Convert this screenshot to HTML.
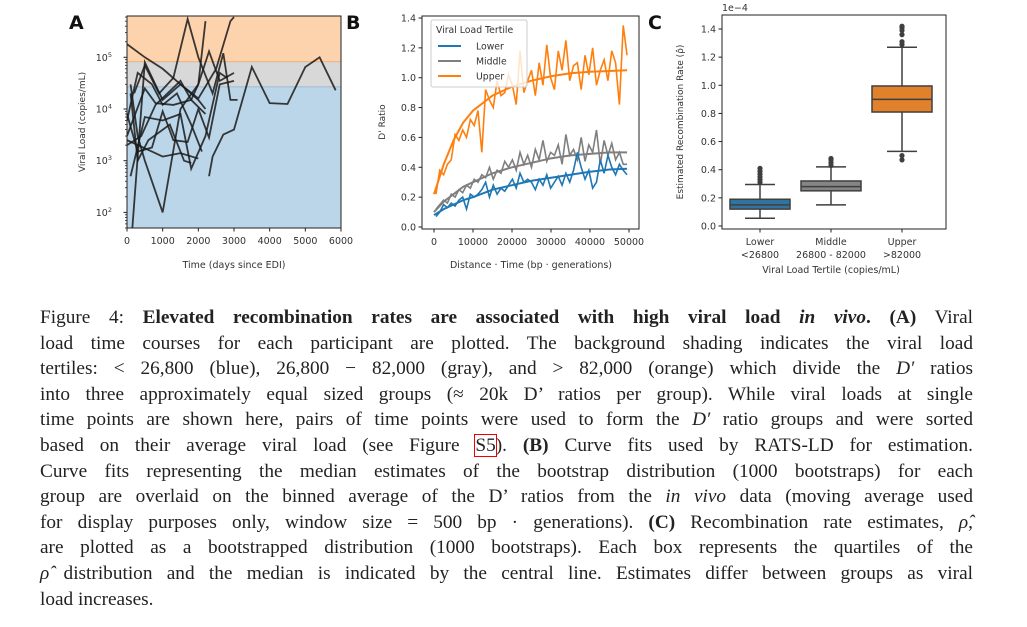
<!DOCTYPE html>
<html><head><meta charset="utf-8">
<style>
body{margin:0;background:#fff;width:1027px;height:627px;overflow:hidden;position:relative}
svg{position:absolute;left:0;top:0}
.cap{position:absolute;left:40px;width:933px;font-family:"Liberation Serif",serif;font-size:19.3px;color:#222;line-height:25.6px;top:305px}
.cap div{text-align:justify;text-align-last:justify;white-space:nowrap}
.cap div.last{text-align-last:left}
.ref{outline:1.5px solid #e00;outline-offset:0}
</style></head><body>
<svg id="fig" width="1027" height="290" font-family="DejaVu Sans, Liberation Sans, sans-serif"></svg>
<div class="cap">
<div>Figure 4: <b>Elevated recombination rates are associated with high viral load <i>in vivo</i>.</b> <b>(A)</b> Viral</div>
<div>load time courses for each participant are plotted. The background shading indicates the viral load</div>
<div>tertiles: &lt; 26,800 (blue), 26,800 − 82,000 (gray), and &gt; 82,000 (orange) which divide the <i>D′</i> ratios</div>
<div>into three approximately equal sized groups (≈ 20k D’ ratios per group). While viral loads at single</div>
<div>time points are shown here, pairs of time points were used to form the <i>D′</i> ratio groups and were sorted</div>
<div>based on their average viral load (see Figure <span class="ref">S5</span>). <b>(B)</b> Curve fits used by RATS-LD for estimation.</div>
<div>Curve fits representing the median estimates of the bootstrap distribution (1000 bootstraps) for each</div>
<div>group are overlaid on the binned average of the D’ ratios from the <i>in vivo</i> data (moving average used</div>
<div>for display purposes only, window size = 500 bp · generations). <b>(C)</b> Recombination rate estimates, <i>ρ̂</i>,</div>
<div>are plotted as a bootstrapped distribution (1000 bootstraps). Each box represents the quartiles of the</div>
<div><i>ρ̂</i> distribution and the median is indicated by the central line. Estimates differ between groups as viral</div>
<div class="last">load increases.</div>
</div>
<script>
// ---- Panel A data ----
const aXTicks=[0,1000,2000,3000,4000,5000,6000];
const aYTicks=[2,3,4,5];
const aThresholds=[26800,82000];
const aSeries=[
[[0,180000],[500,100000],[1000,60000],[1500,30000],[2000,15000],[2200,10000]],
[[2300,500],[2400,1200],[2700,3200],[3000,4000],[3500,65000],[4000,13000],[4500,12500],[5000,65000],[5400,100000],[5850,23000]],
[[100,30000],[300,3000],[500,1000],[1000,100],[1500,10000],[2000,30000],[2200,500000]],
[[150,50],[400,10000],[500,80000],[1000,15000],[1500,30000],[2000,16000],[2500,60000],[2900,500000],[3000,600000]],
[[0,3000],[500,25000],[800,13000],[1300,12000],[1800,15000],[2000,30000],[2300,130000],[2600,35000],[3000,50000]],
[[0,2500],[700,1500],[1000,1200],[1500,1400],[2000,1100]],
[[100,500],[500,7000],[1000,6000],[1500,8000],[1800,700],[2200,3000],[2600,50000],[2800,40000]],
[[0,8000],[300,1500],[700,1800],[1000,9000],[1300,2500],[1700,2300],[2000,10000],[2300,2800],[2600,30000],[3000,35000]],
[[200,20000],[500,70000],[900,20000],[1300,40000],[1700,550000],[2000,100000],[2400,20000],[2700,120000],[2900,15000],[3100,15000]],
[[0,6000],[300,50000],[700,30000],[1000,12000],[1400,20000],[1800,5000],[2100,1500]],
[[100,20000],[300,1000],[600,2500],[1200,5000],[1600,1000],[1800,900]],
[[0,2000],[400,3000],[800,12000],[1500,35000],[1800,15000],[2200,8000]]
];
// ---- Panel B data ----
const bXTicks=[0,10000,20000,30000,40000,50000];
const bYTicks=[0,0.2,0.4,0.6,0.8,1.0,1.2,1.4];
const bNames=["Lower","Middle","Upper"];
const bUpper=[0.22,0.38,0.35,0.42,0.45,0.62,0.58,0.65,0.60,0.72,0.68,0.78,0.50,0.92,0.85,0.80,0.98,0.88,0.90,1.02,0.95,0.82,1.18,0.90,0.98,1.05,0.88,1.10,0.95,1.22,1.00,0.92,1.18,1.05,1.25,0.98,1.08,1.10,0.92,1.15,1.02,1.20,0.95,1.05,1.12,0.98,1.18,1.10,0.82,1.35,1.15];
const bMiddle=[0.12,0.15,0.18,0.16,0.22,0.20,0.25,0.23,0.28,0.26,0.32,0.30,0.35,0.33,0.40,0.32,0.38,0.36,0.44,0.40,0.45,0.38,0.50,0.42,0.48,0.40,0.52,0.45,0.58,0.44,0.50,0.48,0.55,0.42,0.62,0.48,0.52,0.45,0.60,0.44,0.55,0.50,0.65,0.42,0.58,0.48,0.56,0.45,0.50,0.42,0.42];
const bLower=[0.07,0.10,0.15,0.13,0.16,0.14,0.18,0.20,0.12,0.22,0.20,0.22,0.25,0.30,0.20,0.28,0.22,0.26,0.24,0.28,0.32,0.26,0.36,0.30,0.32,0.30,0.25,0.32,0.28,0.35,0.26,0.30,0.34,0.28,0.36,0.30,0.38,0.50,0.40,0.32,0.38,0.26,0.30,0.45,0.36,0.48,0.40,0.35,0.42,0.38,0.35];
const bFitX=[0,2500,5000,7500,10000,15000,20000,25000,30000,35000,40000,45000,49500];
const bFitUpper=[0.22,0.42,0.58,0.70,0.78,0.88,0.94,0.98,1.01,1.03,1.04,1.045,1.05];
const bFitMiddle=[0.10,0.17,0.22,0.27,0.30,0.36,0.40,0.43,0.46,0.48,0.49,0.50,0.50];
const bFitLower=[0.08,0.12,0.15,0.18,0.20,0.25,0.28,0.31,0.33,0.35,0.37,0.385,0.39];
// ---- Panel C data ----
const cCats=["Lower","Middle","Upper"];
const cSub=["<26800","26800 - 82000",">82000"];
const cYTicks=[0,0.2,0.4,0.6,0.8,1.0,1.2,1.4];
const cWlo=[0.055,0.15,0.53];
const cQ1=[0.12,0.25,0.81];
const cMed=[0.15,0.28,0.90];
const cQ3=[0.19,0.32,0.995];
const cWhi=[0.295,0.42,1.27];
const cOut=[[0.31,0.33,0.35,0.37,0.39,0.41],[0.43,0.45,0.47,0.48],[0.47,0.50,1.29,1.31,1.36,1.39,1.41,1.42]];

const NS="http://www.w3.org/2000/svg";
const svg=document.getElementById('fig');
function mk(tag,attrs,parent){const e=document.createElementNS(NS,tag);for(const k in attrs)e.setAttribute(k,attrs[k]);(parent||svg).appendChild(e);return e;}
function txt(s,attrs,parent){const e=mk('text',attrs,parent);e.textContent=s;return e;}

// ===== Panel A =====
const ax=v=>127+(v/6000)*214;
const ay=v=>109-(Math.log10(v)-4)*51.7;
const gA=mk('g',{});


const aT=16,aB=228;
let r=mk('rect',{x:127,y:aT,width:214,height:ay(aThresholds[1])-aT,fill:'#fdd3ae'},gA);

r=mk('rect',{x:127,y:ay(aThresholds[1]),width:214,height:ay(aThresholds[0])-ay(aThresholds[1]),fill:'#d8d8d8'},gA);

r=mk('rect',{x:127,y:ay(aThresholds[0]),width:214,height:aB-ay(aThresholds[0]),fill:'#bcd6e9'},gA);

mk('line',{x1:127,x2:341,y1:ay(aThresholds[1]),y2:ay(aThresholds[1]),stroke:'#e8a46a','stroke-width':0.8},gA);
mk('line',{x1:127,x2:341,y1:ay(aThresholds[0]),y2:ay(aThresholds[0]),stroke:'#8fb0c8','stroke-width':0.8},gA);
const cp=mk('clipPath',{id:'clipA'},gA);mk('rect',{x:127,y:aT,width:214,height:aB-aT},cp);
aSeries.forEach((s,i)=>{
  const p=mk('polyline',{points:s.map(d=>ax(d[0])+','+ay(d[1])).join(' '),fill:'none',stroke:'#1a1a1a','stroke-width':1.8,'stroke-opacity':0.85,'clip-path':'url(#clipA)'},gA);
  
  
});
mk('rect',{x:127,y:aT,width:214,height:aB-aT,fill:'none',stroke:'#222','stroke-width':1},gA);
aXTicks.forEach(t=>{mk('line',{x1:ax(t),x2:ax(t),y1:aB,y2:aB+3.5,stroke:'#222'},gA);
  const e=txt(String(t),{x:ax(t),y:aB+16,'font-size':9.5,'text-anchor':'middle',fill:'#333'},gA);
  });
aYTicks.forEach(t=>{const y=ay(Math.pow(10,t));mk('line',{x1:127,x2:123.5,y1:y,y2:y,stroke:'#222'},gA);
  const e=txt('10',{x:112,y:y+3.5,'font-size':9.5,'text-anchor':'end',fill:'#333'},gA);
  const s=document.createElementNS(NS,'tspan');s.setAttribute('dy','-4');s.setAttribute('font-size','6.5');s.textContent=String(t);e.appendChild(s);
  });
for(let d=1;d<=5;d++)for(let m=2;m<=9;m++){const v=m*Math.pow(10,d);const y=ay(v);if(y>aT&&y<aB)mk('line',{x1:127,x2:125,y1:y,y2:y,stroke:'#222','stroke-width':0.8},gA);}
let e=txt('Time (days since EDI)',{x:234,y:268,'font-size':9.5,'text-anchor':'middle',fill:'#333'},gA);

e=txt('Viral Load (copies/mL)',{x:0,y:0,'font-size':9,'text-anchor':'middle',fill:'#333',transform:'translate(85,122) rotate(-90)'},gA);

e=txt('A',{x:69,y:29,'font-size':19,'font-weight':'bold',fill:'#111'},gA);


// ===== Panel B =====
const bx=v=>434+(v/50000)*195;
const by=v=>227-(v/1.4)*209;
const gB=mk('g',{});


const bL=422,bR=639,bT=16,bBt=229;
mk('rect',{x:bL,y:bT,width:bR-bL,height:bBt-bT,fill:'#fff',stroke:'#222','stroke-width':1},gB);
const cols={Lower:'#1f77b4',Middle:'#7f7f7f',Upper:'#ff7f0e'};
const raw={Lower:bLower,Middle:bMiddle,Upper:bUpper};
const fit={Lower:bFitLower,Middle:bFitMiddle,Upper:bFitUpper};
["Upper","Middle","Lower"].forEach(n=>{
  const arr=raw[n];
  const p=mk('polyline',{points:arr.map((v,i)=>bx(500+i*(49000/(arr.length-1)))+','+by(v)).join(' '),fill:'none',stroke:cols[n],'stroke-width':1.6},gB);
  
  
  const f=mk('polyline',{points:bFitX.map((x,i)=>bx(x)+','+by(fit[n][i])).join(' '),fill:'none',stroke:cols[n],'stroke-width':2},gB);
  
  
});
bXTicks.forEach(t=>{mk('line',{x1:bx(t),x2:bx(t),y1:bBt,y2:bBt+3.5,stroke:'#222'},gB);
  const e=txt(String(t),{x:bx(t),y:bBt+16,'font-size':9.5,'text-anchor':'middle',fill:'#333'},gB);
  });
bYTicks.forEach(t=>{mk('line',{x1:bL,x2:bL-3.5,y1:by(t),y2:by(t),stroke:'#222'},gB);
  const e=txt(t.toFixed(1),{x:bL-6,y:by(t)+3.5,'font-size':9.5,'text-anchor':'end',fill:'#333'},gB);
  });
e=txt('Distance · Time (bp · generations)',{x:531,y:268,'font-size':9.5,'text-anchor':'middle',fill:'#333'},gB);

e=txt("D' Ratio",{x:0,y:0,'font-size':9,'text-anchor':'middle',fill:'#333',transform:'translate(385,122) rotate(-90)'},gB);

const lg=mk('g',{},gB);

mk('rect',{x:431,y:20,width:96,height:67,fill:'#fff','fill-opacity':0.8,stroke:'#ccc',rx:2},lg);
txt('Viral Load Tertile',{x:436,y:33,'font-size':9.3,fill:'#333'},lg);
bNames.forEach((n,i)=>{const y=46+i*15;
  const li=mk('line',{x1:438,x2:461,y1:y,y2:y,stroke:cols[n],'stroke-width':2},lg);
  const t=txt(n,{x:476,y:y+3.5,'font-size':9.3,fill:'#333'},lg);
  });
e=txt('B',{x:346,y:29,'font-size':19,'font-weight':'bold',fill:'#111'},gB);


// ===== Panel C =====
const cx=i=>760+i*71;
const cy=v=>226-(v/1.4)*197;
const gC=mk('g',{});


const cL=722,cR=946,cT=15,cB=229;
mk('rect',{x:cL,y:cT,width:cR-cL,height:cB-cT,fill:'#fff',stroke:'#222','stroke-width':1},gC);
const fills=['#3274a1','#858585','#e1812c'];
cCats.forEach((c,i)=>{const x=cx(i),w=60;
  const g=mk('g',{},gC);
  
  mk('line',{x1:x,x2:x,y1:cy(cWlo[i]),y2:cy(cQ1[i]),stroke:'#3f3f3f','stroke-width':1.5},g);
  mk('line',{x1:x,x2:x,y1:cy(cQ3[i]),y2:cy(cWhi[i]),stroke:'#3f3f3f','stroke-width':1.5},g);
  mk('line',{x1:x-w/4,x2:x+w/4,y1:cy(cWlo[i]),y2:cy(cWlo[i]),stroke:'#3f3f3f','stroke-width':1.5},g);
  mk('line',{x1:x-w/4,x2:x+w/4,y1:cy(cWhi[i]),y2:cy(cWhi[i]),stroke:'#3f3f3f','stroke-width':1.5},g);
  mk('rect',{x:x-w/2,y:cy(cQ3[i]),width:w,height:cy(cQ1[i])-cy(cQ3[i]),fill:fills[i],stroke:'#3f3f3f','stroke-width':1.5},g);
  mk('line',{x1:x-w/2,x2:x+w/2,y1:cy(cMed[i]),y2:cy(cMed[i]),stroke:'#3f3f3f','stroke-width':1.5},g);
  cOut[i].forEach(v=>mk('circle',{cx:x,cy:cy(v),r:2.6,fill:'#3f3f3f'},g));
  mk('line',{x1:x,x2:x,y1:cB,y2:cB+3.5,stroke:'#222'},gC);
  let t=txt(c,{x:x,y:cB+16,'font-size':9.5,'text-anchor':'middle',fill:'#333'},gC);
  
  t=txt(cSub[i],{x:x,y:cB+29,'font-size':9.5,'text-anchor':'middle',fill:'#333'},gC);
  
});
cYTicks.forEach(t=>{mk('line',{x1:cL,x2:cL-3.5,y1:cy(t),y2:cy(t),stroke:'#222'},gC);
  const e=txt(t.toFixed(1),{x:cL-6,y:cy(t)+3.5,'font-size':9.5,'text-anchor':'end',fill:'#333'},gC);
  });
e=txt('1e−4',{x:722,y:11,'font-size':9.5,fill:'#333'},gC);

e=txt('Viral Load Tertile (copies/mL)',{x:831,y:273,'font-size':9.5,'text-anchor':'middle',fill:'#333'},gC);

e=txt('Estimated Recombination Rate (ρ̂)',{x:0,y:0,'font-size':9,'text-anchor':'middle',fill:'#333',transform:'translate(683,122) rotate(-90)'},gC);

e=txt('C',{x:648,y:29,'font-size':19,'font-weight':'bold',fill:'#111'},gC);

</script>
</body></html>
